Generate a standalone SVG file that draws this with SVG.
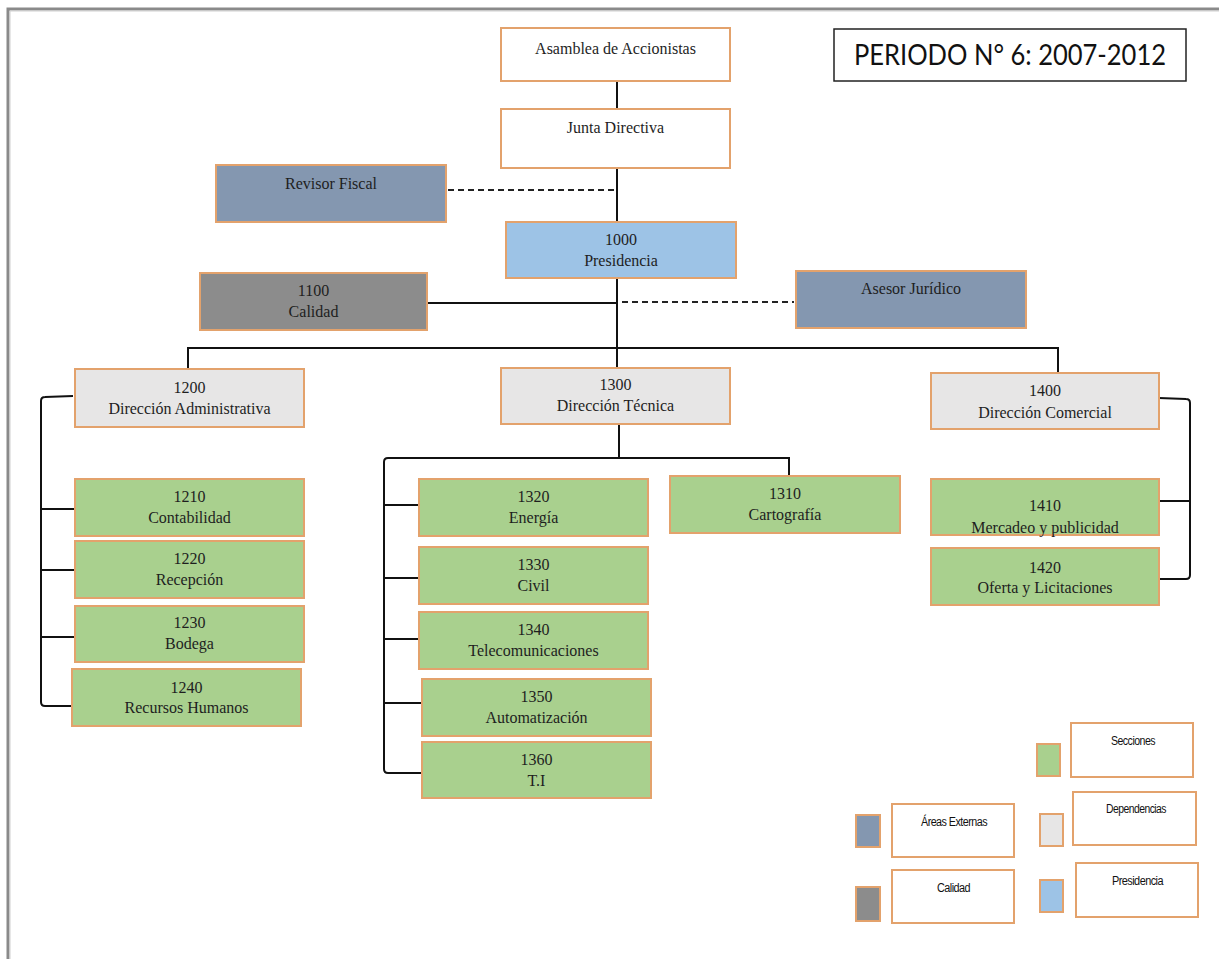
<svg xmlns="http://www.w3.org/2000/svg" width="1219" height="959" viewBox="0 0 1219 959">
<style>
.box{stroke:#E3A26C;stroke-width:2}
.w{fill:#ffffff}
.g{fill:#A9D08E}
.d{fill:#E7E6E6}
.p{fill:#9DC3E6}
.e{fill:#8497B0}
.q{fill:#8C8C8C}
.t{font-family:"Liberation Serif","Times New Roman",serif;font-size:16px;fill:#1e1e1e;text-anchor:middle}
.l{font-family:"Liberation Sans Narrow","Liberation Sans",sans-serif;font-size:12px;fill:#111;text-anchor:middle;letter-spacing:-0.6px}
.c{fill:none;stroke:#111;stroke-width:2}
.dash{fill:none;stroke:#222;stroke-width:2;stroke-dasharray:6 4}
</style>
<rect width="1219" height="959" fill="#ffffff"/>
<g id="frame">
<path d="M8,959 L8,9 L1219,9" fill="none" stroke="#8a8a8a" stroke-width="3"/>
<path d="M10,959 L10,11 L1219,11" fill="none" stroke="#cfcfcf" stroke-width="1"/>
</g>
<g id="connectors">
<line class="c" x1="617" y1="81" x2="617" y2="109"/>
<line class="c" x1="617" y1="168" x2="617" y2="222"/>
<line class="dash" x1="448" y1="190" x2="617" y2="190"/>
<line class="c" x1="617" y1="278" x2="617" y2="368"/>
<line class="c" x1="427" y1="303" x2="617" y2="303"/>
<line class="dash" x1="622" y1="302" x2="794" y2="302"/>
<path class="c" d="M188,369 L188,348 L1058,348 L1058,373"/>
<path class="c" d="M73,396 L45,397 Q41,397 41,401 L41,702 Q41,706 45,706 L72,706"/>
<line class="c" x1="41" y1="509" x2="75" y2="509"/>
<line class="c" x1="41" y1="570" x2="75" y2="570"/>
<line class="c" x1="41" y1="637" x2="75" y2="637"/>
<line class="c" x1="619" y1="424" x2="619" y2="458"/>
<path class="c" d="M789,476 L789,458 L388,458 Q384,458 384,462 L384,769 Q384,773 388,773 L422,773"/>
<line class="c" x1="384" y1="505" x2="419" y2="505"/>
<line class="c" x1="384" y1="578" x2="419" y2="578"/>
<line class="c" x1="384" y1="639" x2="419" y2="639"/>
<line class="c" x1="384" y1="703" x2="422" y2="703"/>
<path class="c" d="M1159,398 L1186,399 Q1190,399 1190,403 L1190,575 Q1190,579 1186,579 L1159,579"/>
<line class="c" x1="1159" y1="501" x2="1190" y2="501"/>
</g>
<g id="periodo">
<rect x="834" y="29" width="352" height="52" fill="#ffffff" stroke="#222" stroke-width="1.5"/>
<text x="1010" y="65" font-family="Lato,'Open Sans',sans-serif" font-size="29" fill="#111" text-anchor="middle" textLength="312" lengthAdjust="spacingAndGlyphs">PERIODO N° 6: 2007-2012</text>
</g>
<g id="asamblea"><rect class="box w" x="501" y="28" width="229" height="53"/><text class="t" x="615.5" y="54">Asamblea de Accionistas</text></g>
<g id="junta"><rect class="box w" x="501" y="109" width="229" height="59"/><text class="t" x="615.5" y="133">Junta Directiva</text></g>
<g id="revisor"><rect class="box e" x="216" y="165" width="230" height="57"/><text class="t" x="331" y="189">Revisor Fiscal</text></g>
<g id="n1000"><rect class="box p" x="506" y="222" width="230" height="56"/><text class="t" x="621" y="245">1000</text><text class="t" x="621" y="266">Presidencia</text></g>
<g id="n1100"><rect class="box q" x="200" y="273" width="227" height="57"/><text class="t" x="313.5" y="296">1100</text><text class="t" x="313.5" y="317">Calidad</text></g>
<g id="asesor"><rect class="box e" x="796" y="271" width="230" height="57"/><text class="t" x="911" y="294">Asesor Jurídico</text></g>
<g id="n1200"><rect class="box d" x="75" y="369" width="229" height="58"/><text class="t" x="189.5" y="393">1200</text><text class="t" x="189.5" y="414">Dirección Administrativa</text></g>
<g id="n1300"><rect class="box d" x="501" y="368" width="229" height="56"/><text class="t" x="615.5" y="390">1300</text><text class="t" x="615.5" y="411">Dirección Técnica</text></g>
<g id="n1400"><rect class="box d" x="931" y="373" width="228" height="56"/><text class="t" x="1045" y="396">1400</text><text class="t" x="1045" y="418">Dirección Comercial</text></g>
<g id="n1210"><rect class="box g" x="75" y="479" width="229" height="57"/><text class="t" x="189.5" y="502">1210</text><text class="t" x="189.5" y="523">Contabilidad</text></g>
<g id="n1220"><rect class="box g" x="75" y="541" width="229" height="57"/><text class="t" x="189.5" y="564">1220</text><text class="t" x="189.5" y="585">Recepción</text></g>
<g id="n1230"><rect class="box g" x="75" y="606" width="229" height="56"/><text class="t" x="189.5" y="628">1230</text><text class="t" x="189.5" y="649">Bodega</text></g>
<g id="n1240"><rect class="box g" x="72" y="669" width="229" height="57"/><text class="t" x="186.5" y="693">1240</text><text class="t" x="186.5" y="713">Recursos Humanos</text></g>
<g id="n1320"><rect class="box g" x="419" y="479" width="229" height="57"/><text class="t" x="533.5" y="502">1320</text><text class="t" x="533.5" y="523">Energía</text></g>
<g id="n1330"><rect class="box g" x="419" y="547" width="229" height="57"/><text class="t" x="533.5" y="570">1330</text><text class="t" x="533.5" y="591">Civil</text></g>
<g id="n1340"><rect class="box g" x="419" y="612" width="229" height="57"/><text class="t" x="533.5" y="635">1340</text><text class="t" x="533.5" y="656">Telecomunicaciones</text></g>
<g id="n1350"><rect class="box g" x="422" y="679" width="229" height="57"/><text class="t" x="536.5" y="702">1350</text><text class="t" x="536.5" y="723">Automatización</text></g>
<g id="n1360"><rect class="box g" x="422" y="742" width="229" height="56"/><text class="t" x="536.5" y="765">1360</text><text class="t" x="536.5" y="786">T.I</text></g>
<g id="n1310"><rect class="box g" x="670" y="476" width="230" height="57"/><text class="t" x="785" y="499">1310</text><text class="t" x="785" y="520">Cartografía</text></g>
<g id="n1410"><rect class="box g" x="931" y="479" width="228" height="56"/><text class="t" x="1045" y="511">1410</text><text class="t" x="1045" y="533">Mercadeo y publicidad</text></g>
<g id="n1420"><rect class="box g" x="931" y="548" width="228" height="57"/><text class="t" x="1045" y="573">1420</text><text class="t" x="1045" y="593">Oferta y Licitaciones</text></g>
<g id="legend-secciones"><rect class="box g" x="1037" y="744" width="23" height="32"/><rect class="box w" x="1071" y="723" width="122" height="54"/><text class="l" x="1133" y="745" textLength="44" lengthAdjust="spacingAndGlyphs">Secciones</text></g>
<g id="legend-externas"><rect class="box e" x="856" y="815" width="24" height="32"/><rect class="box w" x="892" y="804" width="122" height="53"/><text class="l" x="954" y="826" textLength="66" lengthAdjust="spacingAndGlyphs">Áreas Externas</text></g>
<g id="legend-dependencias"><rect class="box d" x="1040" y="814" width="23" height="32"/><rect class="box w" x="1073" y="792" width="123" height="53"/><text class="l" x="1136" y="813" textLength="60" lengthAdjust="spacingAndGlyphs">Dependencias</text></g>
<g id="legend-calidad"><rect class="box q" x="856" y="887" width="24" height="34"/><rect class="box w" x="892" y="870" width="122" height="53"/><text class="l" x="953.5" y="892" textLength="33" lengthAdjust="spacingAndGlyphs">Calidad</text></g>
<g id="legend-presidencia"><rect class="box p" x="1040" y="880" width="23" height="32"/><rect class="box w" x="1076" y="863" width="122" height="54"/><text class="l" x="1137.5" y="885" textLength="51" lengthAdjust="spacingAndGlyphs">Presidencia</text></g>
</svg>
